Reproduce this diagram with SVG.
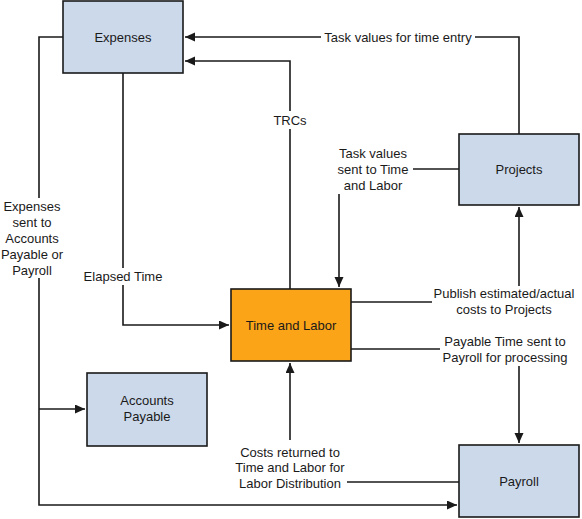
<svg xmlns="http://www.w3.org/2000/svg" width="582" height="519" viewBox="0 0 582 519">
<style>
.box{fill:#CCD9EB;stroke:#1a1a1a;stroke-width:1.6}
.tl{fill:#FBA418;stroke:#1a1a1a;stroke-width:1.6}
.lbl{font-family:"Liberation Sans",Arial,sans-serif;font-size:13px;fill:#1a1a1a;text-anchor:middle}
.ln{fill:none;stroke:#1a1a1a;stroke-width:1.6}
.bg{fill:#ffffff;stroke:none}
</style>
<defs>
<marker id="arr" markerUnits="userSpaceOnUse" markerWidth="11" markerHeight="10" refX="10" refY="4.5" orient="auto">
<path d="M0,0 L10,4.5 L0,9 z" fill="#1a1a1a"/>
</marker>
</defs>
<rect width="582" height="519" fill="#ffffff"/>
<g id="connectors">
<path class="ln" d="M63,37 H39 V505 H457" marker-end="url(#arr)"/>
<path class="ln" d="M39,409 H85" marker-end="url(#arr)"/>
<path class="ln" d="M123,73 V325 H229" marker-end="url(#arr)"/>
<path class="ln" d="M290,289 V61 H185" marker-end="url(#arr)"/>
<path class="ln" d="M519,134 V37 H185" marker-end="url(#arr)"/>
<path class="ln" d="M459,169 H413"/>
<path class="ln" d="M339,194 V287" marker-end="url(#arr)"/>
<path class="ln" d="M351,302 H432"/>
<path class="ln" d="M519,286 V207" marker-end="url(#arr)"/>
<path class="ln" d="M351,349 H440"/>
<path class="ln" d="M519,366 V443" marker-end="url(#arr)"/>
<path class="ln" d="M459,482 H347"/>
<path class="ln" d="M290,440 V363" marker-end="url(#arr)"/>
<rect class="bg" x="1" y="198" width="62" height="80"/>
<text class="lbl" x="32" y="211">Expenses</text>
<text class="lbl" x="32" y="227">sent to</text>
<text class="lbl" x="32" y="243">Accounts</text>
<text class="lbl" x="32" y="259">Payable or</text>
<text class="lbl" x="32" y="275">Payroll</text>
<rect class="bg" x="80" y="268" width="86" height="17"/>
<text class="lbl" x="123" y="281">Elapsed Time</text>
<rect class="bg" x="273" y="111" width="34" height="18"/>
<text class="lbl" x="290" y="125">TRCs</text>
<rect class="bg" x="321" y="29" width="154" height="17"/>
<text class="lbl" x="398" y="42">Task values for time entry</text>
<text class="lbl" x="373" y="158">Task values</text>
<text class="lbl" x="373" y="174">sent to Time</text>
<text class="lbl" x="373" y="190">and Labor</text>
<text class="lbl" x="504" y="298">Publish estimated/actual</text>
<text class="lbl" x="504" y="314">costs to Projects</text>
<text class="lbl" x="505" y="346">Payable Time sent to</text>
<text class="lbl" x="505" y="362">Payroll for processing</text>
<text class="lbl" x="290" y="457">Costs returned to</text>
<text class="lbl" x="290" y="472">Time and Labor for</text>
<text class="lbl" x="290" y="488">Labor Distribution</text>
</g>
<g id="expenses">
<rect class="box" x="63" y="1" width="120" height="72"/>
<text class="lbl" x="123" y="42">Expenses</text>
</g>
<g id="projects">
<rect class="box" x="459" y="134" width="120" height="71"/>
<text class="lbl" x="519" y="174">Projects</text>
</g>
<g id="time-and-labor">
<rect class="tl" x="231" y="289" width="120" height="72"/>
<text class="lbl" x="291" y="330">Time and Labor</text>
</g>
<g id="accounts-payable">
<rect class="box" x="87" y="373" width="120" height="73"/>
<text class="lbl" x="147" y="405">Accounts</text>
<text class="lbl" x="147" y="421">Payable</text>
</g>
<g id="payroll">
<rect class="box" x="459" y="445" width="120" height="72"/>
<text class="lbl" x="519" y="486">Payroll</text>
</g>
</svg>
